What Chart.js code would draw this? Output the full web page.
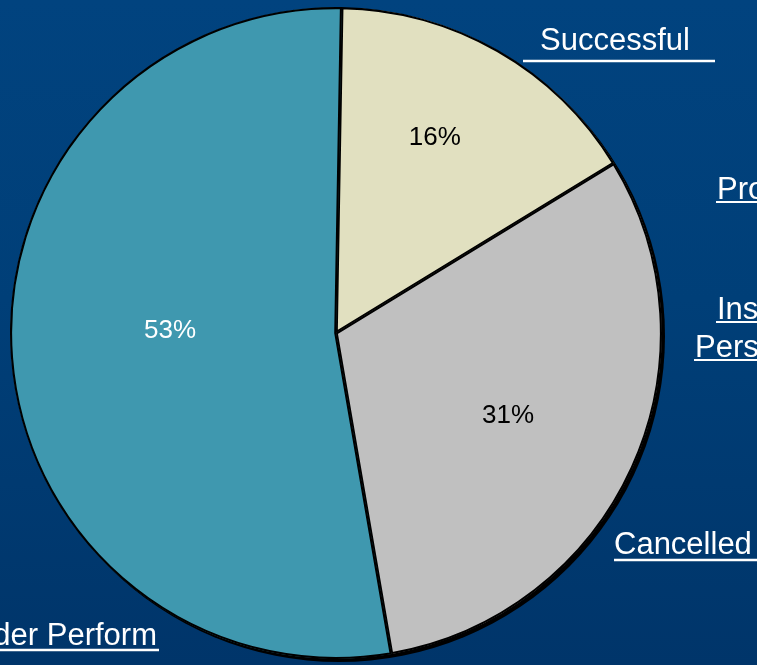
<!DOCTYPE html>
<html>
<head>
<meta charset="utf-8">
<script src="https://cdn.jsdelivr.net/npm/chart.js@4"></script>
<style>
  html, body { margin: 0; padding: 0; }
  body { width: 757px; height: 665px; overflow: hidden;
         background: linear-gradient(to bottom, #01437f 0%, #003f78 45%, #00356a 100%); }
  #wrap { position: relative; width: 757px; height: 665px; }
</style>
</head>
<body>
<div id="wrap"><canvas id="c" width="757" height="665"></canvas></div>
<script>
// ---- data ----
const categories = ['Successful', 'Progressing', 'Insufficient Personnel', 'Cancelled', 'Under Perform'];
const shares = [16, 0, 0, 31, 53];
const sliceColors = ['#e1e0c0', '#9999ff', '#993366', '#c0c0c0', '#3f98af'];
const pctTextColors = ['#000000', '#000000', '#000000', '#000000', '#ffffff'];

// category label placement (layout only)
const labelLines = [
  [{ t: 'Successful', x: 540, y: 50, ux1: 523, ux2: 715, uy: 61, uw: 2.5 }],
  [{ t: 'Progressing', x: 717, y: 199, ux1: 716, ux2: 760, uy: 202, uw: 2 }],
  [{ t: 'Insufficient', x: 717, y: 319, ux1: 716, ux2: 760, uy: 322, uw: 2 },
   { t: 'Personnel', x: 695, y: 357, ux1: 694, ux2: 760, uy: 360, uw: 2 }],
  [{ t: 'Cancelled', x: 614, y: 554, ux1: 614, ux2: 760, uy: 560, uw: 2.5 }],
  [{ t: 'Under Perform', x: 157, y: 645, align: 'right', ux1: -10, ux2: 159, uy: 650, uw: 2.5 }]
];
// percentage label placement: fraction of radius and angular nudge (degrees)
const pctRadius = [0.67, 0.6, 0.6, 0.586, 0.509];
const pctAngleNudge = [-2.9, 0, 0, 1.4, 5.1];

const shadowPlugin = {
  id: 'shadow',
  beforeDatasetsDraw(chart) {
    const arc = chart.getDatasetMeta(0).data.find(a => a.outerRadius > 0);
    if (!arc) return;
    const ctx = chart.ctx;
    ctx.save();
    ctx.beginPath();
    ctx.arc(arc.x + 3, arc.y + 3, arc.outerRadius, 0, Math.PI * 2);
    ctx.fillStyle = '#000000';
    ctx.fill();
    ctx.restore();
  }
};

const labelPlugin = {
  id: 'labels',
  afterDatasetsDraw(chart) {
    const ctx = chart.ctx;
    const meta = chart.getDatasetMeta(0);
    ctx.save();
    // percentages inside slices
    ctx.font = '26px "Liberation Sans", Arial, sans-serif';
    ctx.textAlign = 'center';
    ctx.textBaseline = 'middle';
    meta.data.forEach((arc, i) => {
      if (!shares[i]) return;
      const mid = (arc.startAngle + arc.endAngle) / 2 + pctAngleNudge[i] * Math.PI / 180;
      const r = arc.outerRadius * pctRadius[i];
      ctx.fillStyle = pctTextColors[i];
      ctx.fillText(shares[i] + '%', arc.x + Math.cos(mid) * r, arc.y + Math.sin(mid) * r);
    });
    // category labels
    ctx.font = '31px "Liberation Sans", Arial, sans-serif';
    ctx.textBaseline = 'alphabetic';
    ctx.fillStyle = '#ffffff';
    ctx.strokeStyle = '#ffffff';
    labelLines.forEach((lines, i) => {
      const words = categories[i].split(' ');
      lines.forEach((ln, k) => {
        ctx.textAlign = ln.align || 'left';
        const txt = lines.length > 1 ? words[k] : categories[i];
        ctx.fillText(txt, ln.x, ln.y);
        ctx.lineWidth = ln.uw;
        ctx.beginPath();
        ctx.moveTo(ln.ux1, ln.uy);
        ctx.lineTo(ln.ux2, ln.uy);
        ctx.stroke();
      });
    });
    ctx.restore();
  }
};

new Chart(document.getElementById('c'), {
  type: 'pie',
  data: {
    labels: categories,
    datasets: [{
      data: shares,
      backgroundColor: sliceColors,
      borderColor: '#000000',
      borderWidth: 1.8,
      borderAlign: 'inner'
    }]
  },
  options: {
    responsive: false,
    animation: false,
    rotation: 1,
    layout: { padding: { left: 10, right: 95, top: 7, bottom: 6 } },
    plugins: {
      legend: { display: false },
      tooltip: { enabled: false },
      title: { display: false }
    }
  },
  plugins: [shadowPlugin, labelPlugin]
});
</script>
</body>
</html>
